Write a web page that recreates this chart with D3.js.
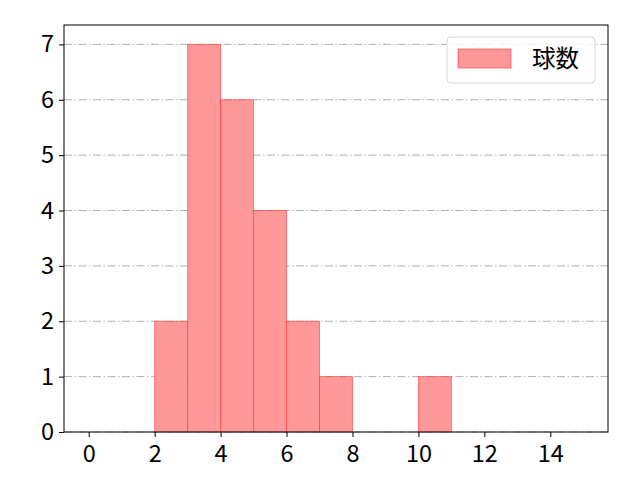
<!DOCTYPE html>
<html>
<head>
<meta charset="utf-8">
<script src="https://cdn.jsdelivr.net/npm/d3@7"></script>
<style>
  body { margin: 0; background: #fff; }
  svg { display: block; }
</style>
</head>
<body>
<div id="chart"></div>
<script>
// histogram bins (left edge) and counts
var binEdges = [0, 1, 2, 3, 4, 5, 6, 7, 8, 9, 10, 11, 12, 13, 14, 15];
var counts   = [0, 0, 2, 7, 6, 4, 2, 1, 0, 0, 1, 0, 0, 0, 0];
var xTicks   = [0, 2, 4, 6, 8, 10, 12, 14];
var yTicks   = [0, 1, 2, 3, 4, 5, 6, 7];
var seriesName = "球数";

var width = 640, height = 480;
var margin = {top: 25, right: 32, bottom: 48, left: 64};
var font = "'Noto Sans CJK JP', 'Noto Sans', sans-serif";

var svg = d3.select("#chart").append("svg")
  .attr("width", width)
  .attr("height", height);

var x = d3.scaleLinear()
  .domain([-0.75, 15.75])
  .range([margin.left, width - margin.right]);

var y = d3.scaleLinear()
  .domain([0, 7.35])
  .range([height - margin.bottom, margin.top]);

// grid lines (horizontal only)
svg.append("g")
  .selectAll("line")
  .data(yTicks)
  .join("line")
    .attr("x1", margin.left)
    .attr("x2", width - margin.right)
    .attr("y1", d => y(d))
    .attr("y2", d => y(d))
    .attr("stroke", "#b0b0b0")
    .attr("stroke-width", 1)
    .attr("stroke-dasharray", "8,2.5,1.5,2.5");

// bars
var bins = counts.map(function(c, i) { return {x0: binEdges[i], x1: binEdges[i + 1], n: c}; })
  .filter(d => d.n > 0);

svg.append("g")
  .selectAll("rect")
  .data(bins)
  .join("rect")
    .attr("x", d => x(d.x0))
    .attr("y", d => y(d.n))
    .attr("width", d => x(d.x1) - x(d.x0))
    .attr("height", d => y(0) - y(d.n))
    .attr("fill", "rgb(255,153,153)")
    .attr("stroke", "rgba(255,40,40,0.55)")
    .attr("stroke-width", 1);

// axes
var xAxis = d3.axisBottom(x).tickValues(xTicks).tickSize(5).tickPadding(8).tickFormat(d3.format("d"));
var yAxis = d3.axisLeft(y).tickValues(yTicks).tickSize(5).tickPadding(5).tickFormat(d3.format("d"));

svg.append("g")
  .attr("transform", "translate(0," + (height - margin.bottom) + ")")
  .call(xAxis)
  .call(g => g.select(".domain").remove());

svg.append("g")
  .attr("transform", "translate(" + margin.left + ",0)")
  .call(yAxis)
  .call(g => g.select(".domain").remove());

svg.selectAll(".tick text")
  .style("font-family", font)
  .style("font-size", "23.5px")
  .attr("fill", "#000");
svg.selectAll(".tick line").attr("stroke", "#000");

// frame
svg.append("rect")
  .attr("x", margin.left)
  .attr("y", margin.top)
  .attr("width", width - margin.left - margin.right)
  .attr("height", height - margin.top - margin.bottom)
  .attr("fill", "none")
  .attr("stroke", "#000")
  .attr("stroke-width", 1);

// legend
var legend = svg.append("g").attr("transform", "translate(447,37)");
legend.append("rect")
  .attr("width", 148)
  .attr("height", 46)
  .attr("rx", 4)
  .attr("fill", "rgba(255,255,255,0.8)")
  .attr("stroke", "#d6d6d6");
legend.append("rect")
  .attr("x", 11)
  .attr("y", 12)
  .attr("width", 53)
  .attr("height", 19)
  .attr("fill", "rgb(255,153,153)")
  .attr("stroke", "rgba(255,40,40,0.55)");
legend.append("text")
  .attr("x", 85)
  .attr("y", 30)
  .style("font-family", font)
  .style("font-size", "23.5px")
  .text(seriesName);
</script>
</body>
</html>
